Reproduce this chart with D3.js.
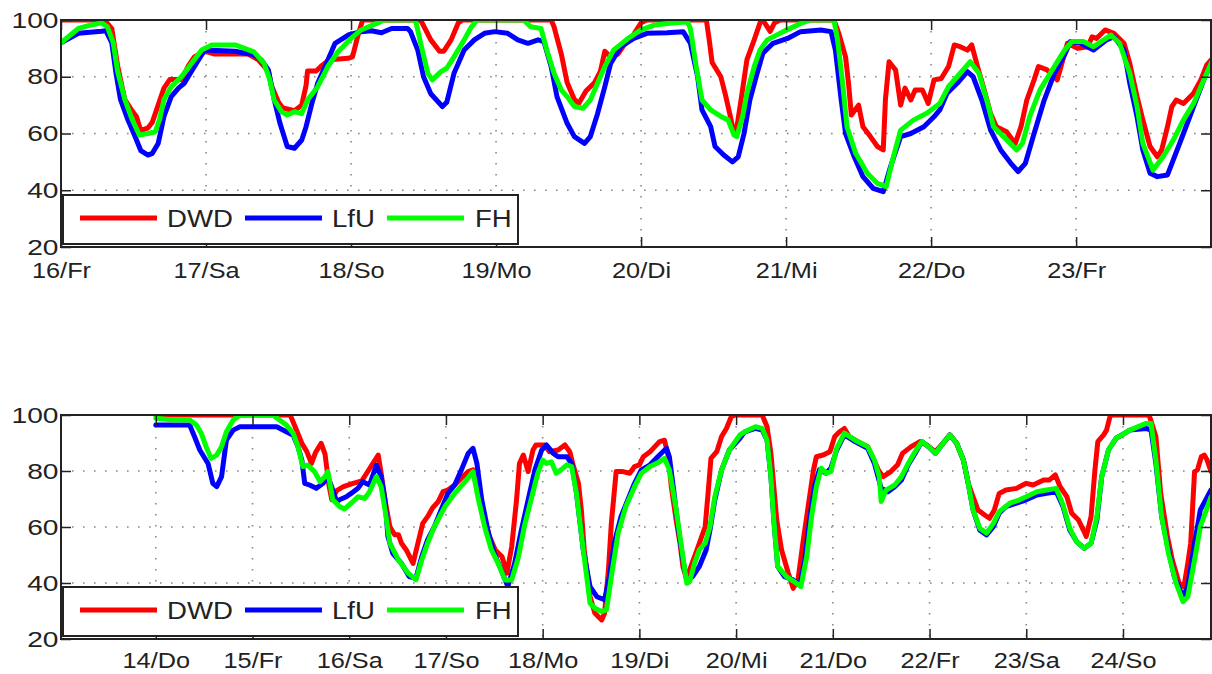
<!DOCTYPE html>
<html>
<head>
<meta charset="utf-8">
<script src="https://d3js.org/d3.v7.min.js"></script>
<style>
  body { margin: 0; background: #fff; }
  text { font-family: "Liberation Sans", Arial, sans-serif; fill: #222; }
</style>
</head>
<body>
<svg width="1212" height="674"></svg>
<script>
var yTicks = [20, 40, 60, 80, 100];
var seriesNames = ["DWD", "LfU", "FH"];
var seriesColors = ["#ff0000", "#0000ff", "#00ff00"];

var topDays = [16, 17, 18, 19, 20, 21, 22, 23];
var topTickLabels = ["16/Fr", "17/Sa", "18/So", "19/Mo", "20/Di", "21/Mi", "22/Do", "23/Fr"];
var bottomDays = [14, 15, 16, 17, 18, 19, 20, 21, 22, 23, 24];
var bottomTickLabels = ["14/Do", "15/Fr", "16/Sa", "17/So", "18/Mo", "19/Di", "20/Mi", "21/Do", "22/Fr", "23/Sa", "24/So"];

// [day, relative humidity %]
var topDWD = [[16.00,100],[16.30,100],[16.35,97],[16.39,84],[16.44,72],[16.49,68],[16.52,66],[16.55,61],[16.60,62],[16.63,64],[16.67,70],[16.71,76],[16.75,79],[16.83,79],[16.88,84],[16.92,87],[16.99,89],[17.06,88],[17.29,88],[17.36,86],[17.43,82],[17.45,77],[17.50,71],[17.53,69],[17.61,68],[17.66,70],[17.69,77],[17.70,82],[17.76,82],[17.80,84],[17.85,86],[17.98,86.5],[18.01,87],[18.05,95],[18.08,100],[18.48,100],[18.55,93],[18.61,89],[18.64,89],[18.69,93],[18.74,99],[18.77,100],[19.38,100],[19.40,97.6],[19.45,88],[19.49,78],[19.54,72],[19.57,70.6],[19.62,75],[19.68,78],[19.72,82],[19.75,89],[19.79,87],[19.84,88],[19.88,91],[19.95,95],[20.0,99],[20.04,100],[20.45,100],[20.47,93],[20.49,85],[20.55,80],[20.58,74],[20.62,65],[20.64,60],[20.66,62],[20.69,72],[20.73,86],[20.78,93],[20.82,99],[20.84,100],[20.89,96],[20.92,99],[20.96,100],[21.33,100],[21.365,95],[21.41,87],[21.43,78],[21.45,66.5],[21.50,70],[21.53,62.4],[21.58,59],[21.63,55.4],[21.67,54.2],[21.685,72],[21.71,85.3],[21.755,82.4],[21.79,70],[21.82,76],[21.86,71.8],[21.89,75.3],[21.94,75.3],[21.98,70.6],[22.02,78.9],[22.07,79.4],[22.12,83.6],[22.16,91.2],[22.20,90.6],[22.25,89.4],[22.28,91.2],[22.32,83.6],[22.36,76.5],[22.41,67],[22.45,62.4],[22.52,60.6],[22.58,56.5],[22.62,62.4],[22.66,71.8],[22.71,78.9],[22.74,83.6],[22.80,82.4],[22.87,78.9],[22.94,91.8],[23.01,90],[23.08,90.6],[23.11,94.1],[23.14,93.5],[23.20,96.5],[23.26,95.3],[23.33,91.8],[23.37,84.7],[23.42,73],[23.46,64.8],[23.51,55.4],[23.56,51.8],[23.59,54.2],[23.63,62.4],[23.66,69.5],[23.69,71.8],[23.74,70.6],[23.81,74.2],[23.86,78.9],[23.90,84.1],[23.94,86.5]];
var topLfU = [[16.0,92],[16.12,95.3],[16.28,96],[16.31,96.2],[16.35,92],[16.38,81],[16.41,72],[16.46,65],[16.51,59],[16.55,54],[16.60,52.4],[16.63,53],[16.67,56.5],[16.71,66],[16.76,73],[16.81,76],[16.85,77.7],[16.92,83.6],[16.99,89.4],[17.20,89],[17.33,87.7],[17.38,86],[17.43,82.4],[17.47,72],[17.51,63.6],[17.56,55.4],[17.61,54.8],[17.66,57.7],[17.69,62.4],[17.73,70.6],[17.77,77.7],[17.83,84.7],[17.89,91.8],[17.98,94.7],[18.07,95.9],[18.14,96.2],[18.21,95.5],[18.28,97],[18.39,97],[18.41,95.9],[18.46,89.4],[18.50,80],[18.55,74],[18.60,71.2],[18.63,69.5],[18.66,71],[18.71,81.2],[18.78,89.4],[18.85,93],[18.92,95.3],[18.99,95.9],[19.08,95.3],[19.15,93],[19.22,91.8],[19.29,93],[19.33,92.4],[19.38,83.6],[19.42,73],[19.49,63.6],[19.54,58.9],[19.61,56.5],[19.65,58.9],[19.70,67],[19.75,76.5],[19.79,84.7],[19.86,90.6],[19.95,93.5],[20.04,95.3],[20.18,95.5],[20.29,95.9],[20.34,91.8],[20.39,80],[20.42,68.3],[20.48,62.4],[20.51,55.4],[20.57,52.4],[20.63,50],[20.67,51.8],[20.71,60],[20.75,71.8],[20.80,81.2],[20.84,88.3],[20.91,91.8],[21.01,93.5],[21.10,95.9],[21.24,96.5],[21.31,95.9],[21.34,89.4],[21.38,71.8],[21.41,60],[21.47,51.8],[21.53,44.8],[21.60,40.7],[21.67,39.5],[21.72,48.3],[21.79,58.9],[21.86,60],[21.95,62.4],[22.02,65.9],[22.06,68.3],[22.11,74.2],[22.18,77.7],[22.25,81.8],[22.29,80],[22.35,71.8],[22.41,61.2],[22.48,54.2],[22.55,49.5],[22.60,46.6],[22.65,49.5],[22.71,60],[22.78,71.8],[22.85,81.2],[22.92,87.7],[22.96,92.4],[23.03,91.8],[23.12,89.4],[23.21,93],[23.26,94.1],[23.33,89.4],[23.37,77.7],[23.42,65.9],[23.46,54.2],[23.51,46],[23.56,44.8],[23.63,45.4],[23.67,50.7],[23.74,60],[23.81,69.5],[23.88,78.9],[23.94,85.9]];
var topFH = [[16.0,92],[16.12,97],[16.19,98],[16.28,99],[16.32,97.6],[16.36,92],[16.39,82],[16.44,72],[16.49,65],[16.54,59.5],[16.60,60],[16.65,60.6],[16.68,65],[16.71,72],[16.76,76.5],[16.83,80],[16.90,84.7],[16.97,89.4],[17.04,91.2],[17.20,91.2],[17.33,88.8],[17.40,84.7],[17.44,78.9],[17.47,71.8],[17.52,67.7],[17.56,66.5],[17.61,67.7],[17.66,67],[17.70,71.8],[17.77,76.5],[17.84,83.6],[17.91,88.8],[18.00,93.5],[18.07,96.5],[18.14,98],[18.23,100],[18.44,100],[18.45,98.8],[18.48,91.8],[18.53,81.2],[18.56,78.9],[18.62,81.8],[18.66,83],[18.71,87],[18.78,93],[18.83,97.6],[18.87,100],[19.19,100],[19.24,97.6],[19.31,97],[19.35,89.4],[19.40,81.2],[19.45,75.3],[19.49,73],[19.54,69.5],[19.60,68.9],[19.65,71.8],[19.70,77.7],[19.75,83.6],[19.81,89.4],[19.91,93.5],[20.0,96.5],[20.09,98.2],[20.18,98.8],[20.32,99.4],[20.34,97],[20.38,83.6],[20.42,71.8],[20.48,68.3],[20.55,66],[20.60,64.8],[20.64,59.5],[20.66,58.9],[20.70,66],[20.73,74.2],[20.78,83.6],[20.82,89.4],[20.87,93],[20.98,95.9],[21.10,98.8],[21.17,100],[21.33,100],[21.355,93],[21.39,77.7],[21.42,62.4],[21.48,53],[21.56,46],[21.63,42.4],[21.69,41.3],[21.74,51.8],[21.79,61.2],[21.88,64.8],[21.97,67.1],[22.06,70.6],[22.12,76.5],[22.18,80],[22.27,85.3],[22.33,81.2],[22.39,70.6],[22.43,62.4],[22.50,58.9],[22.59,54.2],[22.63,56.5],[22.68,66],[22.75,75.3],[22.85,83.6],[22.92,89.4],[22.97,92.4],[23.05,92.4],[23.12,90.6],[23.24,94.7],[23.30,91.8],[23.37,81.2],[23.42,69.5],[23.46,56.5],[23.53,47.1],[23.60,51.8],[23.67,57.7],[23.74,64.8],[23.81,70.6],[23.88,78.9],[23.94,85.9]];

var bottomDWD = [[14.0,100],[15.39,100],[15.45,95],[15.51,89.9],[15.56,87],[15.61,82.7],[15.65,86.5],[15.71,89.9],[15.75,86],[15.79,75],[15.82,69.7],[15.87,73],[15.94,74.4],[16.04,75.6],[16.13,76.5],[16.18,79.2],[16.25,83],[16.30,85.7],[16.33,79.2],[16.37,69.7],[16.42,60.1],[16.47,57.2],[16.51,57.2],[16.54,54.2],[16.59,51.8],[16.66,47],[16.71,54.2],[16.76,61.3],[16.81,63.7],[16.86,66.7],[16.92,69.1],[16.97,72.6],[17.02,73.2],[17.09,75],[17.16,77.4],[17.23,79.8],[17.28,80.4],[17.33,72],[17.38,64.9],[17.45,56.6],[17.51,51.8],[17.58,49.4],[17.63,43.5],[17.68,53],[17.73,69.7],[17.76,82.7],[17.80,85.7],[17.85,79.8],[17.90,87.5],[17.93,89.3],[18.02,89.3],[18.07,86.9],[18.16,87.5],[18.23,89.3],[18.28,86.9],[18.31,82.7],[18.37,75.6],[18.40,66.1],[18.43,51.8],[18.49,35.1],[18.54,29.2],[18.61,26.8],[18.64,29.2],[18.68,44.7],[18.71,61.3],[18.76,79.8],[18.83,79.8],[18.90,79.2],[18.95,81.6],[19.00,82.2],[19.04,85.1],[19.11,86.9],[19.16,88.7],[19.21,90.5],[19.26,91],[19.30,85.1],[19.33,74.4],[19.38,62.5],[19.42,54.2],[19.45,45.9],[19.49,41.1],[19.52,44.7],[19.57,49.4],[19.62,54.2],[19.68,60.1],[19.71,72],[19.74,84.5],[19.80,86.9],[19.85,92.3],[19.90,95.2],[19.95,99.4],[19.99,100],[20.27,100],[20.32,95.8],[20.36,86.3],[20.39,74.4],[20.42,62.5],[20.47,51.8],[20.54,43.5],[20.59,38.1],[20.64,41.1],[20.69,54.2],[20.74,66.1],[20.80,80.4],[20.83,85.1],[20.90,85.7],[20.97,86.9],[21.02,92.3],[21.07,94],[21.12,95.2],[21.17,92.3],[21.26,90.5],[21.36,88.7],[21.41,85.1],[21.47,80.4],[21.52,78],[21.60,79.8],[21.67,82.2],[21.72,86.3],[21.81,88.7],[21.90,90.5],[21.97,89.3],[22.06,86.9],[22.14,89.9],[22.21,92.9],[22.28,89.9],[22.35,83.9],[22.40,75.6],[22.45,70.8],[22.50,66.1],[22.57,64.3],[22.62,63.1],[22.67,66.1],[22.72,72],[22.79,73.2],[22.90,73.8],[23.00,75.6],[23.07,75],[23.18,76.8],[23.24,76.8],[23.30,78.6],[23.35,74.4],[23.42,70.8],[23.47,64.9],[23.54,62.5],[23.59,58.9],[23.62,56.6],[23.67,63.7],[23.71,80.4],[23.74,90.5],[23.80,92.9],[23.83,94.6],[23.87,100],[24.27,100],[24.34,92.3],[24.39,72],[24.46,56.6],[24.51,48.2],[24.58,39.9],[24.63,38.7],[24.67,47],[24.70,54.2],[24.74,79.8],[24.77,80.4],[24.81,85.1],[24.84,85.7],[24.87,83.9],[24.91,79.8]];
var bottomLfU = [[14.0,96.4],[14.35,96.4],[14.40,92.3],[14.455,87.5],[14.54,82.7],[14.59,75.6],[14.63,74.4],[14.68,78],[14.73,91],[14.80,94.6],[14.87,95.8],[15.25,95.8],[15.35,94],[15.42,92.8],[15.47,88.7],[15.51,83.9],[15.54,75.6],[15.59,75],[15.66,73.8],[15.73,75.6],[15.78,78],[15.83,73.2],[15.87,69.1],[15.90,69.7],[15.97,70.8],[16.02,72],[16.09,73.8],[16.14,76.2],[16.21,75],[16.28,82],[16.33,78],[16.37,69.7],[16.40,56.6],[16.45,50.6],[16.54,47],[16.62,42.3],[16.69,41.7],[16.75,49.4],[16.81,55.4],[16.88,60.1],[16.95,66.1],[17.02,72],[17.09,75],[17.16,80.4],[17.23,86.3],[17.28,88.1],[17.32,82.7],[17.37,69.7],[17.44,57.8],[17.50,50.6],[17.57,44.7],[17.64,38.7],[17.71,47],[17.78,58.9],[17.85,69.7],[17.92,80.4],[17.99,87.5],[18.04,89.3],[18.11,86.3],[18.16,85.1],[18.25,85.1],[18.30,82.7],[18.35,72],[18.42,51.8],[18.49,38.7],[18.56,35.1],[18.64,34],[18.69,42.3],[18.74,54.2],[18.81,63.7],[18.88,69.7],[18.95,75.6],[19.02,80.4],[19.11,82.2],[19.19,85.1],[19.28,88.1],[19.31,85.1],[19.35,74.4],[19.40,60.1],[19.45,48.2],[19.49,41.1],[19.55,42.3],[19.62,45.9],[19.69,51.8],[19.73,58.9],[19.78,69.7],[19.85,80.4],[19.93,87.5],[20.04,91.7],[20.09,94],[20.20,95.2],[20.27,94.6],[20.32,91],[20.36,78],[20.39,62.5],[20.43,45.9],[20.50,42.3],[20.59,41.1],[20.66,39.3],[20.71,48.2],[20.76,62.5],[20.81,74.4],[20.86,80.4],[20.93,79.2],[20.98,81],[21.04,87.5],[21.12,92.9],[21.23,90.5],[21.36,88.1],[21.43,82.7],[21.50,73.8],[21.57,72.6],[21.64,74.4],[21.71,76.8],[21.78,82.2],[21.85,86.3],[21.92,90.5],[21.99,88.7],[22.06,86.3],[22.14,89.9],[22.21,92.9],[22.28,89.9],[22.35,83.9],[22.40,75.6],[22.45,66.1],[22.52,58.9],[22.59,57.2],[22.66,60.1],[22.72,64.9],[22.79,67.3],[22.90,68.5],[23.00,69.7],[23.11,71.4],[23.21,72],[23.31,72.6],[23.38,67.3],[23.45,58.9],[23.52,54.8],[23.60,52.4],[23.67,54.2],[23.73,62.5],[23.78,78],[23.85,87.5],[23.93,91.7],[24.02,93.5],[24.07,94.6],[24.24,95.2],[24.29,94.6],[24.34,82.7],[24.40,63.7],[24.47,51.8],[24.53,42.3],[24.62,35.1],[24.67,38.7],[24.74,54.2],[24.80,66.1],[24.91,73.2]];
var bottomFH = [[14.0,98.8],[14.18,98.2],[14.35,98.2],[14.42,96.4],[14.47,93.5],[14.52,88.7],[14.57,84.5],[14.63,85.7],[14.68,88.7],[14.73,94],[14.80,98.2],[14.87,100],[15.21,100],[15.28,98.2],[15.35,96.4],[15.42,93.5],[15.47,88.7],[15.52,81.6],[15.57,82.1],[15.64,79.8],[15.70,76.2],[15.75,78],[15.78,79.8],[15.83,69.7],[15.90,67.3],[15.95,66.4],[16.02,68.5],[16.09,70.8],[16.16,70.2],[16.21,72.6],[16.28,78],[16.33,74.4],[16.37,66.1],[16.42,54.2],[16.51,48.2],[16.61,43.5],[16.69,41.1],[16.75,48.2],[16.81,54.2],[16.88,60.1],[16.99,67.3],[17.09,72],[17.20,76.2],[17.28,79.8],[17.33,70.8],[17.40,60.1],[17.47,51.8],[17.54,47],[17.61,41.1],[17.68,41.1],[17.75,49.4],[17.81,60.1],[17.88,69.7],[17.95,79.2],[18.00,83.9],[18.04,82.7],[18.09,83.3],[18.14,79.2],[18.19,80.4],[18.25,82.2],[18.30,81.6],[18.35,72],[18.42,51.8],[18.49,32.8],[18.54,31],[18.61,29.8],[18.66,30.4],[18.71,42.3],[18.78,57.8],[18.86,67.3],[18.95,74.4],[19.02,79.2],[19.11,81.6],[19.21,83.3],[19.26,84.5],[19.31,80.4],[19.37,68.5],[19.42,56.6],[19.49,39.9],[19.52,40.5],[19.57,47],[19.62,51.8],[19.68,54.2],[19.73,60.1],[19.78,70.8],[19.85,80.4],[19.93,87.5],[20.04,92.9],[20.09,94],[20.20,95.8],[20.27,95.2],[20.32,91],[20.36,78],[20.39,62.5],[20.43,45.9],[20.52,42.3],[20.60,40.5],[20.67,38.7],[20.73,49.4],[20.78,63.7],[20.83,74.4],[20.88,81],[20.93,79.2],[20.98,79.8],[21.04,88.1],[21.12,93.5],[21.23,91],[21.36,88.7],[21.43,83.9],[21.48,78],[21.50,69.1],[21.55,73.2],[21.64,75],[21.71,78],[21.78,82.7],[21.85,86.9],[21.92,90.5],[21.99,88.7],[22.06,86.3],[22.14,89.9],[22.21,92.9],[22.28,89.9],[22.35,83.9],[22.40,75.6],[22.45,66.1],[22.52,59.5],[22.59,57.8],[22.66,61.3],[22.72,65.5],[22.83,68.5],[22.93,69.7],[23.00,70.8],[23.11,72.6],[23.21,73.2],[23.31,73.8],[23.38,67.9],[23.45,59.5],[23.52,54.8],[23.60,52.4],[23.67,54.2],[23.73,63.7],[23.78,78],[23.85,87.5],[23.93,91.7],[24.02,93.5],[24.07,94.6],[24.24,97],[24.29,97],[24.34,83.9],[24.40,63.7],[24.47,50.6],[24.55,39.9],[24.62,33.3],[24.67,35.1],[24.74,48.2],[24.80,60.1],[24.91,70.8]];

var svg = d3.select("svg");
var left = 61, right = 1211;
var xStretch = 1.15, yStretch = 1.28;

function drawPanel(id, top, bottom, xDomain, days, labels, series, labelPad) {
	var x = d3.scaleLinear().domain(xDomain).range([left, right]);
	var y = d3.scaleLinear().domain([20, 100]).range([bottom, top]);
	var g = svg.append("g").attr("id", id);

	// dotted grid
	g.selectAll(".hgrid")
		.data([40, 60, 80])
		.enter().append("line")
		.attr("x1", left).attr("x2", right)
		.attr("y1", function(d) { return y(d); })
		.attr("y2", function(d) { return y(d); })
		.attr("stroke", "#888")
		.attr("stroke-width", 1.6)
		.attr("stroke-dasharray", "1.6,9.4");
	g.selectAll(".vgrid")
		.data(days.filter(function(d) { return x(d) > left + 2; }))
		.enter().append("line")
		.attr("y1", top).attr("y2", bottom)
		.attr("x1", function(d) { return x(d); })
		.attr("x2", function(d) { return x(d); })
		.attr("stroke", "#888")
		.attr("stroke-width", 1.6)
		.attr("stroke-dasharray", "1.6,9.4");

	g.append("clipPath").attr("id", id + "-clip")
		.append("rect")
		.attr("x", left).attr("y", top)
		.attr("width", right - left).attr("height", bottom - top);

	var line = d3.line()
		.x(function(d) { return x(d[0]); })
		.y(function(d) { return y(d[1]); });

	series.forEach(function(s, i) {
		g.append("path")
			.datum(s)
			.attr("d", line)
			.attr("clip-path", "url(#" + id + "-clip)")
			.attr("fill", "none")
			.attr("stroke", seriesColors[i])
			.attr("stroke-width", 5)
			.attr("stroke-linejoin", "round")
			.attr("stroke-linecap", "round");
	});

	// axes with inward ticks on all four sides
	var xAxis = d3.axisBottom(x)
		.tickValues(days)
		.tickFormat(function(d, i) { return labels[i]; })
		.tickSizeInner(-10).tickSizeOuter(0)
		.tickPadding(labelPad);
	var yAxis = d3.axisLeft(y)
		.tickValues(yTicks)
		.tickSizeInner(-10).tickSizeOuter(0)
		.tickPadding(2);

	var gx = g.append("g").attr("transform", "translate(0," + bottom + ")").call(xAxis);
	var gy = g.append("g").attr("transform", "translate(" + left + ",0)").call(yAxis);
	g.append("g").attr("transform", "translate(0," + top + ")")
		.call(d3.axisTop(x).tickValues(days).tickFormat("").tickSizeInner(-10).tickSizeOuter(0));
	g.append("g").attr("transform", "translate(" + right + ",0)")
		.call(d3.axisRight(y).tickValues(yTicks).tickFormat("").tickSizeInner(-10).tickSizeOuter(0));

	g.selectAll(".domain").remove();
	g.selectAll(".tick line").attr("stroke", "#222").attr("stroke-width", 1.5);
	g.selectAll(".tick text")
		.attr("font-size", 22)
		.attr("font-family", "'Liberation Sans', Arial, sans-serif")
		.attr("fill", "#222");
	gx.selectAll("text").attr("transform", "scale(" + xStretch + ",1)");
	gy.selectAll("text").attr("transform", "scale(" + yStretch + ",1)");

	// frame
	g.append("rect")
		.attr("x", left).attr("y", top)
		.attr("width", right - left).attr("height", bottom - top)
		.attr("fill", "none")
		.attr("stroke", "#222")
		.attr("stroke-width", 2);

	// legend
	var legTop = bottom - 52;
	var leg = g.append("g");
	leg.append("rect")
		.attr("x", 63).attr("y", legTop)
		.attr("width", 455).attr("height", 49)
		.attr("fill", "#fff")
		.attr("stroke", "#222")
		.attr("stroke-width", 2);
	var legLineX = [80, 245, 387];
	var legTextX = [167, 332, 475];
	seriesNames.forEach(function(name, i) {
		leg.append("line")
			.attr("x1", legLineX[i]).attr("x2", legLineX[i] + 77)
			.attr("y1", legTop + 23).attr("y2", legTop + 23)
			.attr("stroke", seriesColors[i])
			.attr("stroke-width", 5);
		leg.append("text")
			.attr("transform", "translate(" + legTextX[i] + "," + (legTop + 23) + ") scale(" + xStretch + ",1)")
			.attr("dy", "0.36em")
			.attr("font-size", 24)
			.text(name);
	});
}

drawPanel("top", 20, 247, [16, 23.93], topDays, topTickLabels, [topDWD, topLfU, topFH], 15);
drawPanel("bottom", 415, 639, [13.02, 24.91], bottomDays, bottomTickLabels, [bottomDWD, bottomLfU, bottomFH], 13);
</script>
</body>
</html>
